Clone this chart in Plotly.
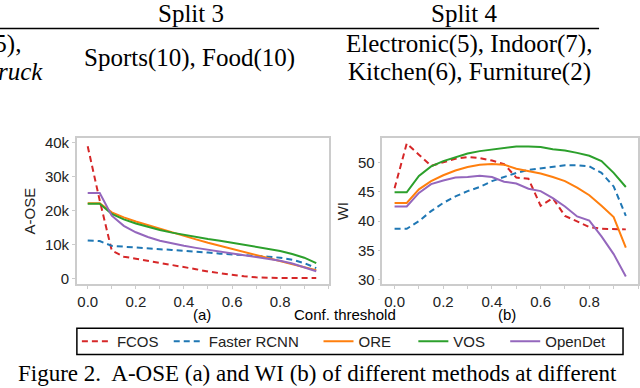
import plotly.graph_objects as go

# confidence thresholds (x axis of both panels)
thresholds = [0.0, 0.05, 0.1, 0.15, 0.2, 0.25, 0.3, 0.35, 0.4, 0.45,
              0.5, 0.55, 0.6, 0.65, 0.7, 0.75, 0.8, 0.85, 0.9, 0.95]

methods = ['FCOS', 'Faster RCNN', 'ORE', 'VOS', 'OpenDet']
colors = ['#d62728', '#1f77b4', '#ff7f0e', '#2ca02c', '#9467bd']
dashes = ['6px,4px', '6px,4px', 'solid', 'solid', 'solid']

# (a) A-OSE, in thousands
aose_fcos = [39.0, 23.0, 8.2, 6.4, 5.8, 5.2, 4.7, 4.1, 3.4, 2.7,
             2.0, 1.5, 1.0, 0.6, 0.3, 0.15, 0.1, 0.1, 0.1, 0.1]
aose_frcnn = [11.2, 11.0, 9.6, 9.3, 9.0, 8.8, 8.6, 8.4, 8.2, 7.9,
              7.6, 7.3, 7.0, 6.8, 6.6, 6.4, 6.1, 5.5, 4.5, 3.0]
aose_ore = [22.2, 22.2, 19.5, 18.0, 16.8, 15.7, 14.6, 13.5, 12.5, 11.5,
            10.5, 9.6, 8.7, 7.8, 6.9, 6.0, 5.1, 4.2, 3.3, 2.4]
aose_vos = [22.0, 22.0, 19.0, 17.4, 16.2, 15.2, 14.3, 13.5, 12.8, 12.2,
            11.6, 11.1, 10.5, 10.0, 9.4, 8.8, 8.1, 7.2, 6.1, 4.5]
aose_opendet = [25.2, 25.2, 18.5, 15.5, 13.6, 12.2, 11.1, 10.3, 9.6, 9.0,
                8.4, 7.9, 7.3, 6.8, 6.3, 5.8, 5.2, 4.4, 3.3, 2.1]

# (b) WI
wi_fcos = [45.6, 53.2, 51.3, 49.4, 50.0, 50.6, 50.9, 50.7, 50.3, 49.7,
           47.4, 47.2, 42.6, 43.9, 40.9, 40.0, 39.0, 38.7, 38.6, 38.6]
wi_frcnn = [38.7, 38.7, 40.0, 41.7, 43.1, 44.2, 45.1, 45.8, 46.8, 47.5,
            48.2, 48.7, 49.0, 49.3, 49.5, 49.5, 49.3, 48.2, 45.9, 40.9]
wi_ore = [43.1, 43.1, 45.4, 46.8, 47.8, 48.6, 49.2, 49.6, 49.7, 49.6,
          48.9, 48.5, 48.1, 47.5, 46.8, 45.7, 44.4, 42.6, 40.7, 35.5]
wi_vos = [44.9, 44.9, 47.7, 49.3, 50.2, 50.9, 51.5, 51.9, 52.2, 52.5,
          52.7, 52.7, 52.6, 52.2, 52.0, 51.6, 51.1, 50.2, 48.2, 45.8]
wi_opendet = [42.5, 42.5, 44.8, 46.3, 46.9, 47.4, 47.5, 47.7, 47.5, 46.7,
              46.4, 45.5, 45.1, 43.9, 42.5, 40.8, 40.1, 37.4, 34.4, 30.6]

aose = [aose_fcos, aose_frcnn, aose_ore, aose_vos, aose_opendet]
wi = [wi_fcos, wi_frcnn, wi_ore, wi_vos, wi_opendet]

aose_ticks = [0, 10, 20, 30, 40]
aose_ticktext = ['0', '10k', '20k', '30k', '40k']
wi_ticks = [30, 35, 40, 45, 50]

W, H = 640, 388
def px(x):
    return x / W
def py(y):
    return 1 - y / H

sans = 'Liberation Sans'
serif = 'Liberation Serif'
frame = '#cccccc'

# one small legend per entry so each sits where it does in the figure
legend_keys = ['legend', 'legend2', 'legend3', 'legend4', 'legend5']
legend_x = [77, 169, 319, 414, 506]
legend_row = 344.5

fig = go.Figure()
for i, name in enumerate(methods):
    line = dict(color=colors[i], width=2, dash=dashes[i])
    fig.add_trace(go.Scatter(x=thresholds, y=aose[i], mode='lines', name=name,
                             line=line, legendgroup=name, legend=legend_keys[i],
                             xaxis='x', yaxis='y'))
    fig.add_trace(go.Scatter(x=thresholds, y=wi[i], mode='lines', name=name,
                             line=line, legendgroup=name, showlegend=False,
                             xaxis='x2', yaxis='y2'))

axis_common = dict(showline=True, linecolor=frame, linewidth=1.5, mirror=True,
                   showgrid=False, zeroline=False, ticks='outside', ticklen=3,
                   tickcolor=frame, tickfont=dict(family=sans, size=15, color='#222'))
xaxis_common = dict(axis_common, range=[-0.045, 1.005], tickvals=[0, 0.2, 0.4, 0.6, 0.8],
                    ticktext=['0.0', '0.2', '0.4', '0.6', '0.8'],
                    minor=dict(dtick=0.1, ticks='outside', ticklen=3, tickcolor=frame))

fig.update_layout(
    width=W, height=H, margin=dict(l=0, r=0, t=0, b=0),
    paper_bgcolor='white', plot_bgcolor='white',
    xaxis=dict(xaxis_common, domain=[px(77), px(330)], anchor='y'),
    yaxis=dict(axis_common, domain=[py(286), py(137)], anchor='x',
               range=[-1.7, 41.4], tickvals=aose_ticks, ticktext=aose_ticktext,
               title=dict(text='A-OSE', font=dict(family=sans, size=15, color='#222'),
                          standoff=6)),
    xaxis2=dict(xaxis_common, domain=[px(383), px(639)], anchor='y2', range=[-0.05, 1.0]),
    yaxis2=dict(axis_common, domain=[py(286), py(137)], anchor='x2',
                range=[29.3, 54.1], tickvals=wi_ticks,
                title=dict(text='WI', font=dict(family=sans, size=15, color='#222'),
                           standoff=6)),
    showlegend=True,
)
for key, x in zip(legend_keys, legend_x):
    fig.update_layout({key: dict(x=px(x), xanchor='left', y=py(legend_row), yanchor='middle',
                                 bgcolor='rgba(0,0,0,0)', borderwidth=0,
                                 font=dict(family=sans, size=15, color='#222'))})

# legend frame
fig.add_shape(type='rect', xref='paper', yref='paper', x0=px(77), x1=px(624),
              y0=py(358), y1=py(331), line=dict(color='black', width=1.5))

notes = [
    ('(a)', 202, 317, 'center', sans, 15),
    ('Conf. threshold', 346, 317, 'center', sans, 15),
    ('(b)', 508, 317, 'center', sans, 15),
    ('Split 3', 191, 10, 'center', serif, 25),
    ('Split 4', 465, 10, 'center', serif, 25),
    ('(5),', 23, 41, 'right', serif, 25),
    ('<i>truck</i>', 45, 69, 'right', serif, 25),
    ('Sports(10), Food(10)', 190, 55, 'center', serif, 25),
    ('Electronic(5), Indoor(7),', 470, 41, 'center', serif, 25),
    ('Kitchen(6), Furniture(2)', 470, 69, 'center', serif, 25),
    ('Figure 2.  A-OSE (a) and WI (b) of different methods at different', 16, 377,
     'left', serif, 23),
]
for text, x, y, anchor, fam, size in notes:
    fig.add_annotation(text=text, x=px(x), y=py(y), xref='paper', yref='paper',
                       xanchor=anchor, yanchor='middle', showarrow=False,
                       font=dict(family=fam, size=size, color='black'))

# table rule
fig.add_shape(type='line', xref='paper', yref='paper', x0=0, x1=px(600),
              y0=py(25), y1=py(25), line=dict(color='black', width=1.5))

fig.write_html("out.html", config={'displayModeBar': False},
               post_script="document.body.style.margin='0';")
